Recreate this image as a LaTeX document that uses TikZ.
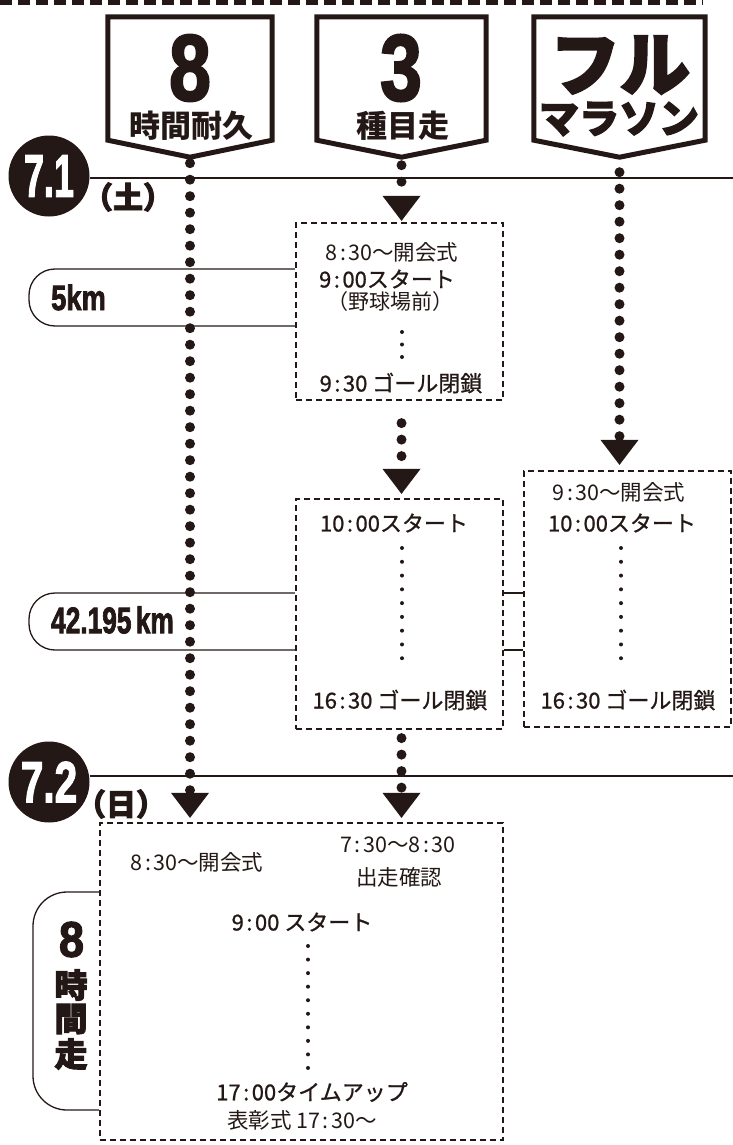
\documentclass[tikz,border=0pt]{standalone}
\usepackage{fontspec}
\usepackage{graphicx}
\usetikzlibrary{arrows.meta,calc}
\definecolor{ink}{HTML}{231815}
\newfontfamily\jp{Noto Sans CJK JP}
\newfontfamily\jpmed{Noto Sans CJK JP}[FakeBold=0.9]
\newfontfamily\jpheavy{Noto Sans CJK JP}[BoldFeatures={FakeBold=3}]
\newfontfamily\impfont{Liberation Sans}[BoldFeatures={FakeBold=2.5}]
\newcommand\impt[3]{\scalebox{#1}[1]{\fontsize{#2}{#2}\selectfont\impfont\bfseries #3}}
\newcommand\fs[1]{\fontsize{#1}{#1}\selectfont}
\newcommand\cl{\kern2.5pt:\kern2.5pt}
\tikzset{
  every node/.style={inner sep=0pt, text=ink},
  lt/.style={font=\jp\fs{21.5}},
  md/.style={font=\jpmed\fs{22}},
  dbox/.style={draw=ink, line width=2.2pt, dash pattern=on 6pt off 4pt, inner sep=0pt},
  badge/.style={draw=ink, line width=5pt, line join=miter},
  bigdots/.style={draw=ink, line width=10pt, line cap=round, dash pattern=on 0pt off 16.5pt},
  tri/.style={-{Triangle[width=38pt,length=25pt,line width=0pt,fill=ink,color=ink]}},
  smalldots/.style={draw=ink, line width=4pt, line cap=round},
  tab/.style={draw=ink, line width=1.3pt, rounded corners=#1},
  tab/.default=26pt,
  dateline/.style={draw=ink, line width=1.6pt},
  datec/.style={circle, fill=ink, minimum size=81pt, text=white},
  dayl/.style={font=\jpheavy\bfseries\fs{30}}
}
\begin{document}
\begin{tikzpicture}[x=1pt,y=-1pt]
\useasboundingbox (0,0) rectangle (733,1145);
% top dashed rule
\draw[draw=ink, line width=6pt, dash pattern=on 12pt off 6pt] (0,2) -- (703,2);

% date lines and circles
\node[datec] (c71) at (49,176) {\impt{0.6}{60}{7.1}};
\node[datec] (c72) at (49,782) {\impt{0.7}{58}{7.2}};
\coordinate (l1e) at (733,178);
\coordinate (l2e) at (733,776);
\draw[dateline] (c71.east |- l1e) -- (l1e);
\draw[dateline] (c72.east |- l2e) -- (l2e);
\node[dayl] (d71) at (128,197) {（土）};
\node[dayl] (d72) at (121,804) {（日）};

% badges
\node[minimum width=164pt, minimum height=123pt] (h1) at (190,78.5) {};
\node[minimum width=169pt, minimum height=123pt] (h2) at (401.5,78.5) {};
\node[minimum width=171pt, minimum height=123pt] (h3) at (619.5,78.5) {};
\foreach \h in {h1,h2,h3}{
  \coordinate (\h tip) at ($(\h.south)+(0,17)$);
  \draw[badge] (\h.south west) -- (\h.north west) -- (\h.north east) -- (\h.south east) -- (\h tip) -- cycle;
}
\node (n8) at (190,68) {\impt{0.8}{94}{8}};
\node[font=\jp\bfseries\fs{31}] (h1t) at (191,126) {時間耐久};
\node (n3) at (401,68) {\impt{0.8}{94}{3}};
\node[font=\jp\bfseries\fs{31}] (h2t) at (403,126) {種目走};
\node[font=\jpheavy\bfseries\fs{70}] (h3a) at (620,65) {フル};
\node[font=\jpheavy\bfseries\fs{40}] (h3b) at (619,119) {マラソン};

% boxes
\node[dbox, minimum width=207pt, minimum height=177pt] (b1) at (399.5,311.5) {};
\node[dbox, minimum width=207pt, minimum height=230pt] (b2) at (399.5,614) {};
\node[dbox, minimum width=207pt, minimum height=256pt] (b3) at (627.5,599) {};
\node[dbox, minimum width=403pt, minimum height=317pt] (b4) at (301.5,981.5) {};

% big dotted connectors with arrow heads
\draw[bigdots,tri] ($(h1tip)+(0,6)$) -- ($(b4.north -| h1tip)+(0,-4)$);
\draw[bigdots,tri] ($(h2tip)+(0,8)$) -- ($(b1.north -| h2tip)+(0,-1)$);
\draw[bigdots,tri] ($(b1.south -| h2tip)+(0,22)$) -- ($(b2.north -| h2tip)+(0,-4)$);
\draw[bigdots,tri] ($(b2.south -| h2tip)+(0,8)$) -- ($(b4.north -| h2tip)+(0,-4)$);
\draw[bigdots,tri] ($(h3tip)+(0,15)$) -- ($(b3.north -| h3tip)+(0,-5)$);

% box 1
\node[lt] (t11) at (392,252) {8\cl30～開会式};
\node[md] (t12) at (387,279) {9\cl00スタート};
\node[font=\jp\fs{21}] (t13) at (390,302) {（野球場前）};
\node[md] (t14) at (401,383) {9\cl30 ゴール閉鎖};
\coordinate (s1a) at (402,332); \coordinate (s1b) at (402,357);
\draw[smalldots, dash pattern=on 0pt off 12.5pt] (s1a) -- (s1b);

% box 2
\node[md] (t21) at (394,523) {10\cl00スタート};
\node[md] (t22) at (400,700) {16\cl30 ゴール閉鎖};
\coordinate (s2a) at (402,548); \coordinate (s2b) at (402,672);
\draw[smalldots, dash pattern=on 0pt off 13.78pt] (s2a) -- (s2b);

% box 3
\node[lt] (t31) at (619,492) {9\cl30～開会式};
\node[md] (t32) at (622,523) {10\cl00スタート};
\node[md] (t33) at (628,700) {16\cl30 ゴール閉鎖};
\coordinate (s3a) at (621,548); \coordinate (s3b) at (621,672);
\draw[smalldots, dash pattern=on 0pt off 13.78pt] (s3a) -- (s3b);

% box 4
\node[lt] (t41) at (197,862) {8\cl30～開会式};
\node[lt] (t42) at (398,845) {7\cl30～8\cl30};
\node[lt] (t43) at (399,877) {出走確認};
\node[md] (t44) at (302,922) {9\cl00 スタート};
\node[md] (t45) at (312,1092) {17\cl00タイムアップ};
\node[lt] (t46) at (302,1120) {表彰式 17\cl30～};
\coordinate (s4a) at (308,946); \coordinate (s4b) at (308,1068);
\draw[smalldots, dash pattern=on 0pt off 13.55pt] (s4a) -- (s4b);

% distance tabs
\node (k5) at (78.5,297.5) {\impt{0.78}{35}{5km}};
\draw[tab] (b1.west |- 0,269) -- (29,269) -- (29,326) -- (b1.west |- 0,326);
\node (k42) at (112.5,620) {\impt{0.71}{37}{42.195\,km}};
\draw[tab] (b2.west |- 0,593) -- (29,593) -- (29,650) -- (b2.west |- 0,650);
\draw[tab] (b2.east |- 0,593) -- (b3.west |- 0,593);
\draw[tab] (b2.east |- 0,650) -- (b3.west |- 0,650);
\draw[tab=34pt] (b4.west |- 0,892) -- (33,892) -- (33,1110) -- (b4.west |- 0,1110);
\node (v8) at (71.5,939.5) {\impt{0.9}{50}{8}};
\node[font=\jpheavy\bfseries\fs{33}] (v1) at (71,985) {時};
\node[font=\jpheavy\bfseries\fs{33}] (v2) at (71,1019) {間};
\node[font=\jpheavy\bfseries\fs{33}] (v3) at (71,1054) {走};
\end{tikzpicture}
\end{document}
